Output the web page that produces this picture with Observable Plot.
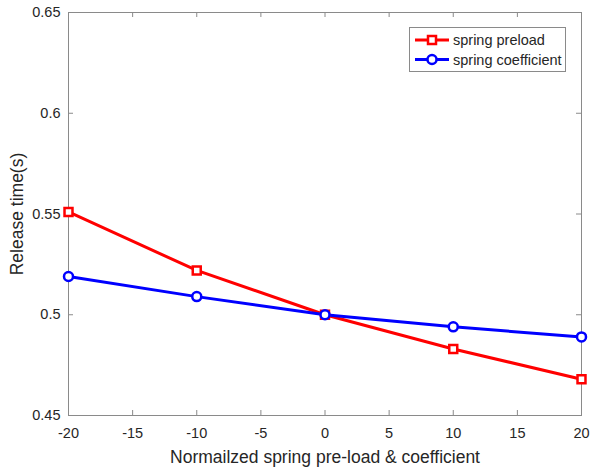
<!DOCTYPE html>
<html>
<head>
<meta charset="utf-8">
<script src="https://cdn.jsdelivr.net/npm/d3@7"></script>
<script src="https://cdn.jsdelivr.net/npm/@observablehq/plot@0.6"></script>
<style>
  html, body { margin: 0; padding: 0; background: #fff; }
  #wrap { position: relative; width: 590px; height: 470px; font-family: "Liberation Sans", Arial, sans-serif; }
  #legend { position: absolute; left: 409px; top: 27px; }
</style>
</head>
<body>
<div id="wrap"></div>
<script>
const xValues = [-20, -10, 0, 10, 20];
const preloadValues = [0.551, 0.522, 0.500, 0.483, 0.468];
const coefficientValues = [0.519, 0.509, 0.500, 0.494, 0.489];
const seriesNames = ["spring preload", "spring coefficient"];
const seriesColors = ["#ff0000", "#0000ff"];
const seriesSymbols = ["square", "circle"];
const xTicks = [-20, -15, -10, -5, 0, 5, 10, 15, 20];
const yTicks = [0.45, 0.5, 0.55, 0.6, 0.65];
const xDomain = [-20, 20];
const yDomain = [0.45, 0.65];

const data = [
  ...xValues.map((x, i) => ({x, y: preloadValues[i], s: seriesNames[0]})),
  ...xValues.map((x, i) => ({x, y: coefficientValues[i], s: seriesNames[1]}))
];

const W = 590, H = 470, mL = 68, mR = 9, mT = 12, mB = 55;
const tickLenPx = 5;
const xPerPx = (xDomain[1] - xDomain[0]) / (W - mL - mR);
const yPerPx = (yDomain[1] - yDomain[0]) / (H - mT - mB);
const frameColor = "#8a8a8a";
const textColor = "#262626";

const chart = Plot.plot({
  width: W, height: H,
  marginLeft: mL, marginRight: mR, marginTop: mT, marginBottom: mB,
  style: {fontFamily: "'Liberation Sans', Arial, sans-serif", fontSize: "14px", color: textColor, background: "#fff"},
  x: {domain: xDomain, ticks: xTicks, label: null},
  y: {domain: yDomain, ticks: yTicks, label: null},
  color: {domain: seriesNames, range: seriesColors},
  symbol: {domain: seriesNames, range: seriesSymbols},
  marks: [
    Plot.frame({stroke: frameColor, strokeWidth: 1}),
    Plot.axisX(xTicks, {tickSize: 0, tickPadding: 12, fontSize: 14.5, fill: textColor, tickFormat: d => String(d).replace("−", "-")}),
    Plot.axisY(yTicks, {tickSize: 0, tickPadding: 8, fontSize: 14.5, fill: textColor, tickFormat: d => String(d)}),
    Plot.ruleX(xTicks, {x: d => d, y1: yDomain[0], y2: yDomain[0] + tickLenPx * yPerPx, stroke: frameColor}),
    Plot.ruleX(xTicks, {x: d => d, y1: yDomain[1], y2: yDomain[1] - tickLenPx * yPerPx, stroke: frameColor}),
    Plot.ruleY(yTicks, {y: d => d, x1: xDomain[0], x2: xDomain[0] + tickLenPx * xPerPx, stroke: frameColor}),
    Plot.ruleY(yTicks, {y: d => d, x1: xDomain[1], x2: xDomain[1] - tickLenPx * xPerPx, stroke: frameColor}),
    Plot.line(data, {x: "x", y: "y", z: "s", stroke: "s", strokeWidth: 3}),
    Plot.dot(data, {x: "x", y: "y", stroke: "s", symbol: "s", fill: "white", r: 4.5, strokeWidth: 2.5}),
    Plot.text(["Normailzed spring pre-load & coefficient"], {frameAnchor: "bottom", dy: 47, fontSize: 17.5, fill: textColor, text: d => d}),
    Plot.text(["Release time(s)"], {frameAnchor: "left", dx: -51, rotate: -90, textAnchor: "middle", fontSize: 17.5, fill: textColor, text: d => d})
  ]
});

const wrap = document.getElementById("wrap");
wrap.appendChild(chart);

// Legend
const lg = d3.create("svg").attr("id", "legend").attr("width", 157).attr("height", 45);
lg.append("rect").attr("x", 0.5).attr("y", 0.5).attr("width", 156).attr("height", 44)
  .attr("fill", "#fff").attr("stroke", frameColor);
seriesNames.forEach((name, i) => {
  const cy = 13 + i * 19.5;
  lg.append("line").attr("x1", 6).attr("x2", 40).attr("y1", cy).attr("y2", cy)
    .attr("stroke", seriesColors[i]).attr("stroke-width", 3);
  if (seriesSymbols[i] === "square") {
    lg.append("rect").attr("x", 23 - 4).attr("y", cy - 4).attr("width", 8).attr("height", 8)
      .attr("fill", "#fff").attr("stroke", seriesColors[i]).attr("stroke-width", 2.5);
  } else {
    lg.append("circle").attr("cx", 23).attr("cy", cy).attr("r", 4.5)
      .attr("fill", "#fff").attr("stroke", seriesColors[i]).attr("stroke-width", 2.5);
  }
  lg.append("text").attr("x", 44).attr("y", cy).attr("dy", "0.35em")
    .attr("font-size", 14.5).attr("fill", textColor)
    .attr("font-family", "'Liberation Sans', Arial, sans-serif").text(name);
});
wrap.appendChild(lg.node());
</script>
</body>
</html>
